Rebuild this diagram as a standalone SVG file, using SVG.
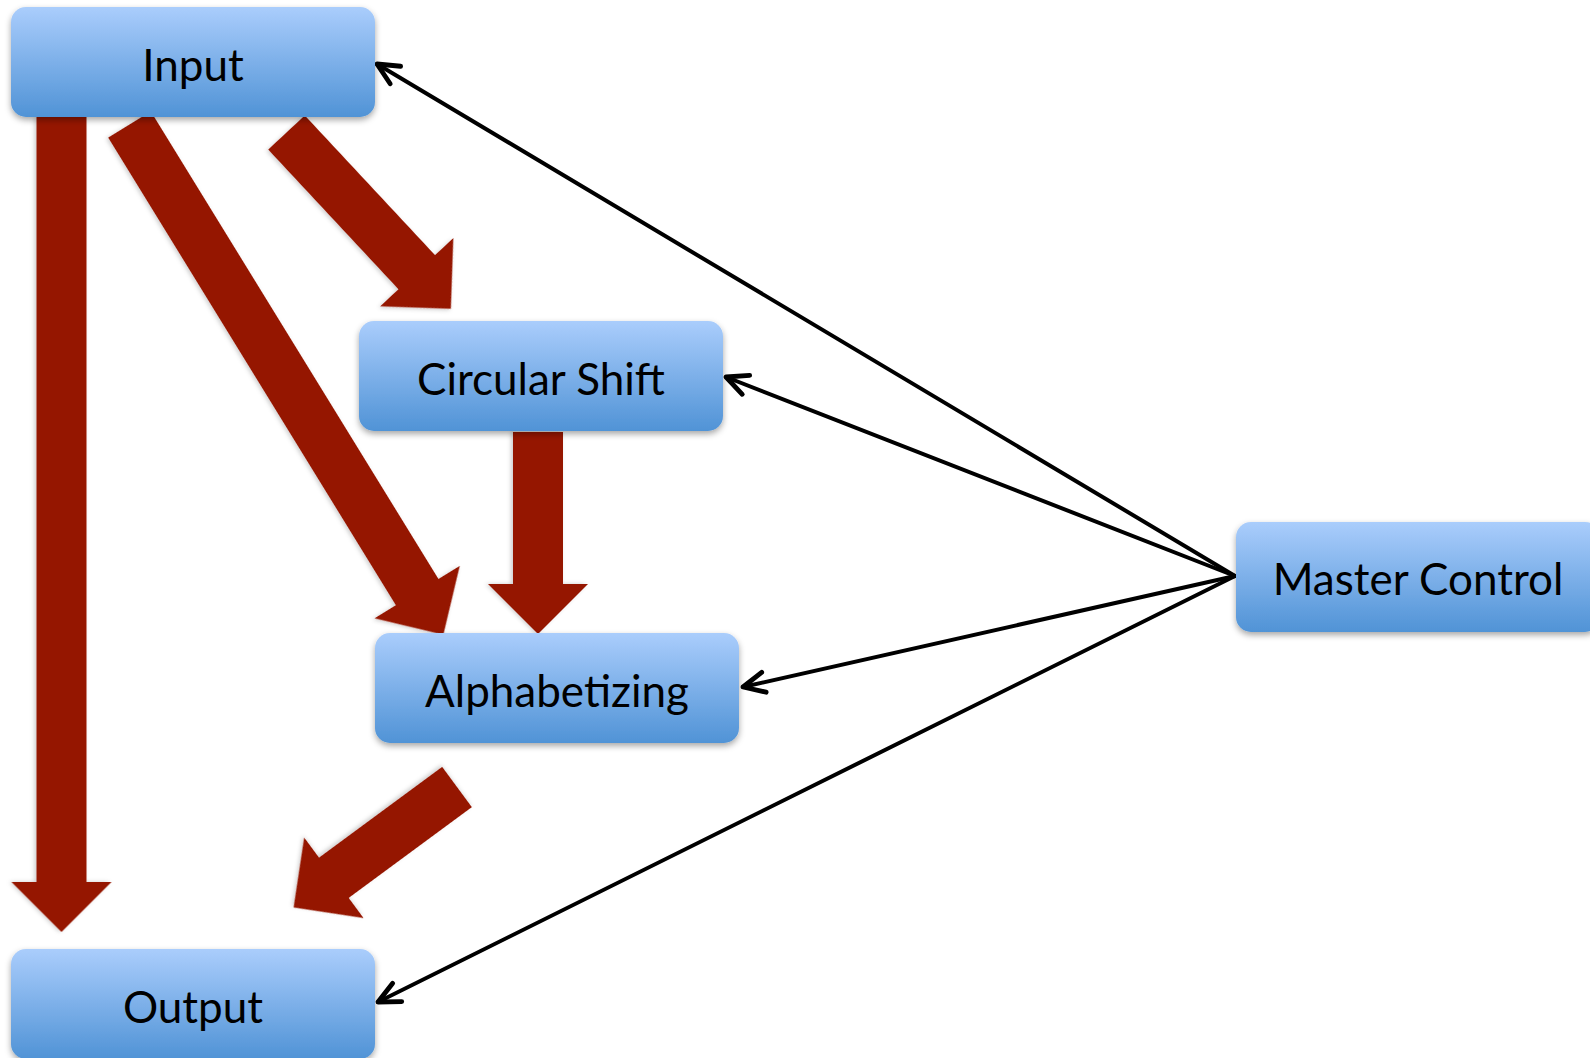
<svg xmlns="http://www.w3.org/2000/svg" width="1590" height="1058" viewBox="0 0 1590 1058">
  <defs>
    <linearGradient id="boxFill" x1="0" y1="0" x2="0" y2="1">
      <stop offset="0" stop-color="#aacdfc"/>
      <stop offset="1" stop-color="#5093d6"/>
    </linearGradient>
    <filter id="shadow" x="-10%" y="-20%" width="120%" height="150%">
      <feDropShadow dx="0" dy="3" stdDeviation="3" flood-color="#000" flood-opacity="0.35"/>
    </filter>
    <filter id="softShadow" x="-20%" y="-20%" width="140%" height="140%">
      <feDropShadow dx="0" dy="2" stdDeviation="2" flood-color="#000" flood-opacity="0.2"/>
    </filter>
    <marker id="openHead" markerUnits="userSpaceOnUse" markerWidth="30" markerHeight="30" viewBox="-24 -14 28 28" refX="0" refY="0" orient="auto">
      <path d="M -20 -9.5 L 0 0 L -20 9.5" fill="none" stroke="#000" stroke-width="4.5" stroke-linecap="round" stroke-linejoin="round"/>
    </marker>
  </defs>
  <style>
    .box { fill: url(#boxFill); filter: url(#shadow); }
    .label { font-family: Lato, "Open Sans", "Liberation Sans", sans-serif; font-size: 44px; fill: #000; text-anchor: middle; }
    .flow { fill: #951500; filter: url(#softShadow); }
    .ctrl { fill: none; stroke: #000; stroke-width: 4; stroke-linecap: round; marker-end: url(#openHead); }
  </style>

  <!-- data flow arrows (block arrows: shaft 50 wide, head 100 wide, 50 long) -->
  <g id="connectors">
    <g id="flows">
      <!-- Input -> Output -->
      <path class="flow" transform="translate(61.5,117) rotate(90)" d="M0,-25 L765,-25 L765,-50 L815,0 L765,50 L765,25 L0,25 Z"/>
      <!-- Circular Shift -> Alphabetizing -->
      <path class="flow" transform="translate(538,432) rotate(90)" d="M0,-25 L152,-25 L152,-50 L202,0 L152,50 L152,25 L0,25 Z"/>
      <!-- Input -> Circular Shift -->
      <path class="flow" transform="translate(286.5,132.5) rotate(47)" d="M0,-25 L191,-25 L191,-50 L241,0 L191,50 L191,25 L0,25 Z"/>
      <!-- Input -> Alphabetizing -->
      <path class="flow" transform="translate(129.5,124.5) rotate(58.4)" d="M0,-25 L549,-25 L549,-50 L599,0 L549,50 L549,25 L0,25 Z"/>
      <!-- Alphabetizing -> Output -->
      <path class="flow" transform="translate(457,787) rotate(143.6)" d="M0,-25 L153,-25 L153,-50 L203,0 L153,50 L153,25 L0,25 Z"/>
    </g>
    <!-- control lines from Master Control -->
    <g id="control">
      <line class="ctrl" x1="1235" y1="576" x2="377" y2="64"/>
      <line class="ctrl" x1="1235" y1="576" x2="726" y2="377"/>
      <line class="ctrl" x1="1235" y1="576" x2="743" y2="687"/>
      <line class="ctrl" x1="1235" y1="576" x2="378" y2="1002"/>
    </g>
  </g>

  <g id="input">
    <rect class="box" x="11" y="7" width="364" height="110" rx="15"/>
    <text class="label" x="193" y="81">Input</text>
  </g>
  <g id="circular-shift">
    <rect class="box" x="359" y="321" width="364" height="110" rx="15"/>
    <text class="label" x="541" y="395">Circular Shift</text>
  </g>
  <g id="alphabetizing">
    <rect class="box" x="375" y="633" width="364" height="110" rx="15"/>
    <text class="label" x="557" y="707">Alphabetizing</text>
  </g>
  <g id="master-control">
    <rect class="box" x="1236" y="522" width="364" height="110" rx="15"/>
    <text class="label" x="1418" y="595">Master Control</text>
  </g>
  <g id="output">
    <rect class="box" x="11" y="949" width="364" height="110" rx="15"/>
    <text class="label" x="193" y="1023">Output</text>
  </g>
</svg>
